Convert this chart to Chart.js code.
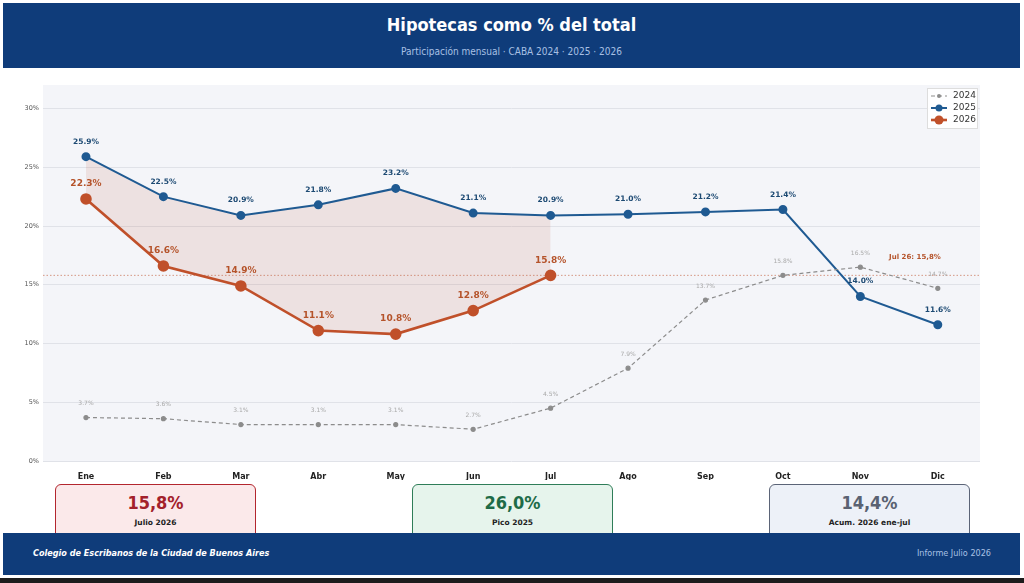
<!DOCTYPE html>
<html lang="es">
<head>
<meta charset="utf-8">
<title>Hipotecas como % del total</title>
<script src="https://cdn.jsdelivr.net/npm/chart.js@4.4.1/dist/chart.umd.min.js"></script>
<style>
  html, body { margin: 0; padding: 0; background: #fff; }
  body { width: 1024px; height: 583px; position: relative; overflow: hidden; font-family: 'DejaVu Sans Condensed', 'DejaVu Sans', sans-serif; }
  .band { position: absolute; left: 3px; right: 4px; background: #0f3c7a; }
  #header { top: 3px; height: 65px; }
  #header h1 { margin: 0; position: absolute; top: 11px; width: 100%; text-align: center; color: #fff; font-size: 18px; font-weight: bold; }
  #header .sub { position: absolute; top: 43px; width: 100%; text-align: center; color: #a8c0e4; font-size: 10px; }
  #chartWrap { position: absolute; left: 0; top: 68px; width: 1024px; height: 412px; }
  .card { position: absolute; top: 484px; width: 201px; height: 70px; border-radius: 6px; border: 1.5px solid; text-align: center; box-sizing: border-box; }
  .card .val { margin-top: 7px; font-size: 18px; font-weight: bold; }
  .card .lbl { margin-top: 5px; font-size: 7.5px; font-weight: bold; color: #222; font-family: 'DejaVu Sans', sans-serif; }
  #footer { top: 533px; height: 42px; z-index: 2; }
  #footer .left { position: absolute; left: 30px; top: 15px; color: #fff; font-size: 9px; font-weight: bold; font-style: italic; }
  #footer .right { position: absolute; right: 29px; top: 15px; color: #a8c0e4; font-size: 9px; }
  #bottomEdge { position: absolute; left: 0; right: 0; top: 578px; height: 5px; background: #1c1c1c; }
</style>
</head>
<body>
<div id="header" class="band">
  <h1>Hipotecas como % del total</h1>
  <div class="sub">Participación mensual · CABA 2024 · 2025 · 2026</div>
</div>

<div id="chartWrap"><canvas id="chart"></canvas></div>

<div class="card" style="left:55px;border-color:#b3262e;background:#fbe9ea;">
  <div class="val" style="color:#a3212b;">15,8%</div>
  <div class="lbl">Julio 2026</div>
</div>
<div class="card" style="left:412px;border-color:#2f7d58;background:#e6f4ec;">
  <div class="val" style="color:#1e6b47;">26,0%</div>
  <div class="lbl">Pico 2025</div>
</div>
<div class="card" style="left:769px;border-color:#5b6477;background:#edf1f8;">
  <div class="val" style="color:#5a6272;">14,4%</div>
  <div class="lbl">Acum. 2026 ene-jul</div>
</div>

<div id="footer" class="band">
  <div class="left">Colegio de Escribanos de la Ciudad de Buenos Aires</div>
  <div class="right">Informe Julio 2026</div>
</div>
<div id="bottomEdge"></div>

<script>
// Month labels for the x axis
const MONTHS = ['Ene', 'Feb', 'Mar', 'Abr', 'May', 'Jun', 'Jul', 'Ago', 'Sep', 'Oct', 'Nov', 'Dic'];

// Share of mortgages over total deeds (%)
const SERIES_2024 = [3.7, 3.6, 3.1, 3.1, 3.1, 2.7, 4.5, 7.9, 13.7, 15.8, 16.5, 14.7];
const SERIES_2025 = [25.9, 22.5, 20.9, 21.8, 23.2, 21.1, 20.9, 21.0, 21.2, 21.4, 14.0, 11.6];
const SERIES_2026 = [22.3, 16.6, 14.9, 11.1, 10.8, 12.8, 15.8];

// Reference line: last 2026 value
const REF_VALUE = 15.8;
const REF_LABEL = 'Jul 26: 15,8%';

const Y_TICKS = [0, 5, 10, 15, 20, 25, 30];

const COLORS = {
    '2024': '#8c8c8c',
    '2025': '#1f5a92',
    '2026': '#c0502a'
};

function toPoints(values) {
    return values.map((v, i) => ({ x: i, y: v }));
}

// Style of the value labels drawn above each point
const LABEL_STYLE = {
    '2024': { font: 'normal 6px "DejaVu Sans"', color: '#a9a9a9', offset: 14 },
    '2025': { font: 'bold 7.5px "DejaVu Sans"', color: '#1d4a73', offset: 15 },
    '2026': { font: 'bold 9px "DejaVu Sans"', color: '#b5532a', offset: 15 }
};

const plotBackground = {
    id: 'plotBackground',
    beforeDraw(chart) {
        const { ctx, chartArea: a } = chart;
        ctx.save();
        ctx.fillStyle = '#f4f5f9';
        ctx.fillRect(a.left, a.top, a.right - a.left, a.bottom - a.top);
        ctx.restore();
    }
};

const refLine = {
    id: 'refLine',
    beforeDatasetsDraw(chart) {
        const { ctx, chartArea: a, scales } = chart;
        const y = scales.y.getPixelForValue(REF_VALUE);
        ctx.save();
        ctx.strokeStyle = 'rgba(200,110,80,0.7)';
        ctx.lineWidth = 1;
        ctx.setLineDash([1.5, 2]);
        ctx.beginPath();
        ctx.moveTo(a.left, y);
        ctx.lineTo(a.right, y);
        ctx.stroke();
        ctx.setLineDash([]);
        ctx.font = 'bold 7px "DejaVu Sans"';
        ctx.fillStyle = '#b5532a';
        ctx.textAlign = 'right';
        ctx.textBaseline = 'middle';
        ctx.fillText(REF_LABEL, scales.x.getPixelForValue(11) + 3, y - 18);
        ctx.restore();
    }
};

const valueLabels = {
    id: 'valueLabels',
    afterDatasetsDraw(chart) {
        const { ctx } = chart;
        ctx.save();
        ctx.textAlign = 'center';
        ctx.textBaseline = 'middle';
        chart.data.datasets.forEach((ds, i) => {
            const style = LABEL_STYLE[ds.label];
            const meta = chart.getDatasetMeta(i);
            ctx.font = style.font;
            ctx.fillStyle = style.color;
            meta.data.forEach((pt, j) => {
                ctx.fillText(ds.data[j].y.toFixed(1) + '%', pt.x, pt.y - style.offset);
            });
        });
        ctx.restore();
    }
};

const cornerLegend = {
    id: 'cornerLegend',
    afterDraw(chart) {
        const { ctx, chartArea: a } = chart;
        const w = 50, h = 40;
        const x0 = a.right - w - 3, y0 = a.top + 3;
        ctx.save();
        ctx.fillStyle = 'rgba(255,255,255,0.9)';
        ctx.strokeStyle = '#dddddd';
        ctx.lineWidth = 1;
        ctx.fillRect(x0, y0, w, h);
        ctx.strokeRect(x0 + 0.5, y0 + 0.5, w, h);
        chart.data.datasets.forEach((ds, i) => {
            const y = y0 + 8 + i * 12;
            ctx.strokeStyle = ds.borderColor;
            ctx.lineWidth = ds.borderWidth;
            ctx.setLineDash(ds.borderDash || []);
            ctx.beginPath();
            ctx.moveTo(x0 + 4, y);
            ctx.lineTo(x0 + 20, y);
            ctx.stroke();
            ctx.setLineDash([]);
            ctx.fillStyle = ds.borderColor;
            ctx.beginPath();
            ctx.arc(x0 + 12, y, ds.pointRadius, 0, Math.PI * 2);
            ctx.fill();
            ctx.fillStyle = '#333';
            ctx.font = '9px "DejaVu Sans"';
            ctx.textAlign = 'left';
            ctx.textBaseline = 'middle';
            ctx.fillText(ds.label, x0 + 26, y);
        });
        ctx.restore();
    }
};

new Chart(document.getElementById('chart').getContext('2d'), {
    type: 'line',
    data: {
        datasets: [
            {
                label: '2024',
                data: toPoints(SERIES_2024),
                borderColor: COLORS['2024'],
                backgroundColor: COLORS['2024'],
                borderWidth: 1.2,
                borderDash: [4, 3],
                pointRadius: 2,
                fill: false
            },
            {
                label: '2025',
                data: toPoints(SERIES_2025),
                borderColor: COLORS['2025'],
                backgroundColor: COLORS['2025'],
                borderWidth: 2,
                pointRadius: 3.5,
                fill: false
            },
            {
                label: '2026',
                data: toPoints(SERIES_2026),
                borderColor: COLORS['2026'],
                backgroundColor: 'rgba(192,80,60,0.12)',
                pointBackgroundColor: COLORS['2026'],
                borderWidth: 2.6,
                pointRadius: 4.5,
                fill: { target: 1 }
            }
        ]
    },
    options: {
        responsive: true,
        maintainAspectRatio: false,
        animation: false,
        layout: { padding: { top: 17, right: 44, left: 0, bottom: 0 } },
        plugins: {
            legend: { display: false },
            tooltip: { enabled: false }
        },
        scales: {
            x: {
                type: 'linear',
                min: -0.555,
                max: 11.545,
                afterFit(scale) { scale.height = 19; },
                afterBuildTicks(scale) {
                    scale.ticks = MONTHS.map((m, i) => ({ value: i }));
                },
                grid: { display: false },
                border: { display: false },
                ticks: {
                    callback: (v) => MONTHS[v],
                    color: '#222',
                    font: { family: 'DejaVu Sans', size: 8, weight: 'bold' },
                    padding: 3,
                    maxRotation: 0
                }
            },
            y: {
                min: 0,
                max: 32,
                afterFit(scale) { scale.width = 43; },
                afterBuildTicks(scale) {
                    scale.ticks = Y_TICKS.map(v => ({ value: v }));
                },
                grid: { color: '#e0e2e8', lineWidth: 1, drawTicks: false },
                border: { display: false },
                ticks: {
                    callback: (v) => v + '%',
                    color: '#555',
                    font: { family: 'DejaVu Sans', size: 6.5 },
                    padding: 4
                }
            }
        }
    },
    plugins: [plotBackground, refLine, valueLabels, cornerLegend]
});
</script>
</body>
</html>
